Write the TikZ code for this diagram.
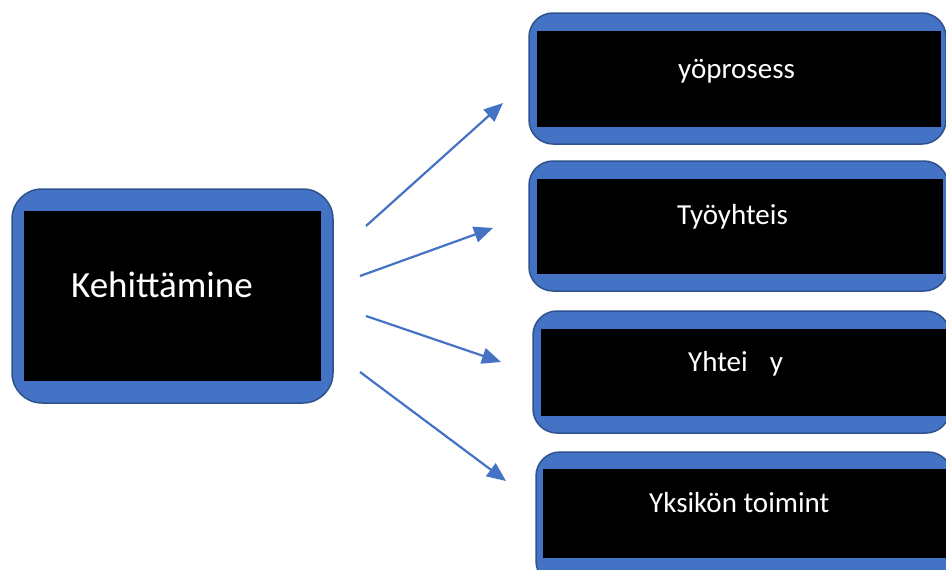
\documentclass[tikz,border=0pt]{standalone}
\usepackage{fontspec}
\setmainfont{Carlito}
\usetikzlibrary{arrows.meta}
\definecolor{boxblue}{HTML}{4472C4}
\definecolor{boxedge}{HTML}{2F528F}
\begin{document}
\begin{tikzpicture}[x=1pt,y=-1pt,
  outerbox/.style={draw=boxedge, line width=1.5pt, fill=boxblue, inner sep=0pt},
  innerbox/.style={fill=black, inner sep=0pt},
  bigtext/.style={text=white, inner sep=0pt, anchor=base west, font=\fontsize{37}{41}\selectfont},
  smalltext/.style={text=white, inner sep=0pt, anchor=base west, font=\fontsize{29}{33}\selectfont},
  link/.style={draw=boxblue, line width=2.2pt, -{Triangle[length=19pt,width=16pt]}}]
\path[fill=white, use as bounding box] (0,0) rectangle (946,570);
\clip (0,0) rectangle (946,570);
% left box
\node[outerbox, rounded corners=30pt, minimum width=321pt, minimum height=214pt] (L) at (172.5,296) {};
\node[innerbox, minimum width=297pt, minimum height=170pt] (Li) at (172.5,296) {};
\node[bigtext] (Lt) at (71,297) {Kehittämine};
% right boxes
\node[outerbox, rounded corners=24pt, minimum width=417pt, minimum height=131pt] (R1) at (737.5,78.5) {};
\node[innerbox, minimum width=404pt, minimum height=96pt] (R1i) at (739,79) {};
\node[smalltext] (R1t) at (678,78) {yöprosess};
\node[outerbox, rounded corners=24pt, minimum width=419pt, minimum height=130pt] (R2) at (738.5,226) {};
\node[innerbox, minimum width=406pt, minimum height=95pt] (R2i) at (740,226.5) {};
\node[smalltext] (R2t) at (677,224) {Työyhteis};
\node[outerbox, rounded corners=24pt, minimum width=417pt, minimum height=122pt] (R3) at (741.5,372) {};
\node[innerbox, minimum width=407pt, minimum height=87pt] (R3i) at (744.5,372.5) {};
\node[smalltext] (R3t) at (688,371) {Yhtei\hspace{22pt}y};
\node[outerbox, rounded corners=24pt, minimum width=416pt, minimum height=133pt] (R4) at (744,518.5) {};
\node[innerbox, minimum width=407pt, minimum height=89pt] (R4i) at (746.5,513.5) {};
\node[smalltext] (R4t) at (649,512) {Yksikön toimint};
% arrows
\coordinate (a1s) at (366,226); \coordinate (a1e) at (503,103);
\coordinate (a2s) at (360,276); \coordinate (a2e) at (493,228);
\coordinate (a3s) at (366,316); \coordinate (a3e) at (501,362);
\coordinate (a4s) at (360,372); \coordinate (a4e) at (506,481);
\draw[link] (a1s) -- (a1e);
\draw[link] (a2s) -- (a2e);
\draw[link] (a3s) -- (a3e);
\draw[link] (a4s) -- (a4e);
\end{tikzpicture}
\end{document}
